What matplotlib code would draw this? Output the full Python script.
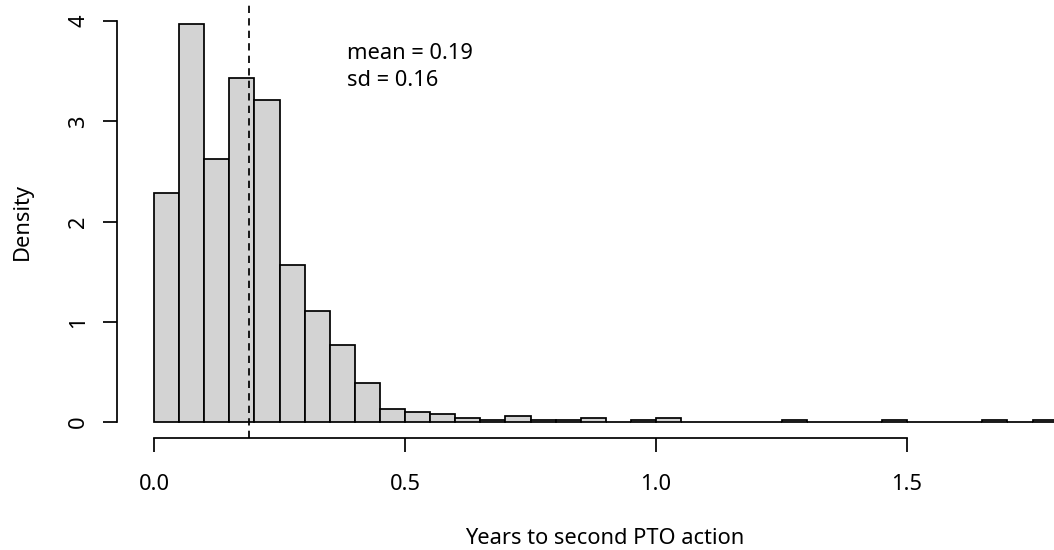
import numpy as np
import matplotlib
matplotlib.use('Agg')
from matplotlib import pyplot as plt

''' matplotlib config '''
plt.rcParams['font.family'] = ['Noto Sans', 'DejaVu Sans']

# histogram of years to second PTO action (bin width 0.05, density scale)
bin_left = np.arange(0.0, 1.80, 0.05)
density = [2.28, 3.97, 2.62, 3.43, 3.21, 1.57, 1.11, 0.77, 0.39, 0.13,
           0.10, 0.08, 0.04, 0.02, 0.06, 0.02, 0.02, 0.04, 0.00, 0.02,
           0.04, 0.00, 0.00, 0.00, 0.00, 0.02, 0.00, 0.00, 0.00, 0.02,
           0.00, 0.00, 0.00, 0.02, 0.00, 0.02]
bin_width = 0.05
mean_val = 0.19
sd_val = 0.16
x_ticks = [0.0, 0.5, 1.0, 1.5]
x_tick_labels = ['0.0', '0.5', '1.0', '1.5']
y_ticks = [0, 1, 2, 3, 4]

W, H = 1054, 550
fs = 15.7
lw = 1.25
fig = plt.figure(figsize=(W / 100, H / 100), dpi=100)
# plot region in pixels: left 117, right 1054 (cut), top 5, bottom 438
ax = fig.add_axes([117 / W, 1 - 438 / H, (1054 - 117) / W, (438 - 5) / H])
ax.set_xlim(-37 / 502, (1054 - 154) / 502)
ax.set_ylim(-0.16, 4.16)

ax.bar(bin_left, density, width=bin_width, align='edge',
       color='#d3d3d3', edgecolor='black', linewidth=lw)
ax.axvline(mean_val, color='black', linewidth=lw, linestyle=(0, (4.2, 3.0)))

ax.text(0.384, 3.68, 'mean = %.2f' % mean_val, fontsize=fs, va='center', ha='left')
ax.text(0.384, 3.41, 'sd = %.2f' % sd_val, fontsize=fs, va='center', ha='left')

for s in ['top', 'right']:
    ax.spines[s].set_visible(False)
ax.spines['left'].set_bounds(0, 4)
ax.spines['bottom'].set_bounds(0, 1.5)
ax.spines['left'].set_linewidth(lw)
ax.spines['bottom'].set_linewidth(lw)
ax.set_xticks(x_ticks)
ax.set_xticklabels(x_tick_labels)
ax.set_yticks(y_ticks)
ax.tick_params(axis='both', direction='out', length=10, width=lw, labelsize=fs)
ax.tick_params(axis='x', pad=16)
ax.tick_params(axis='y', pad=10)
for lbl in ax.get_yticklabels():
    lbl.set_rotation(90)
    lbl.set_va('center')

fig.text(22 / W, 1 - 222 / H, 'Density', rotation=90, fontsize=fs,
         ha='center', va='center')
fig.text(605 / W, 1 - 538 / H, 'Years to second PTO action', fontsize=fs,
         ha='center', va='center')

fig.savefig('out.png', dpi=100)
